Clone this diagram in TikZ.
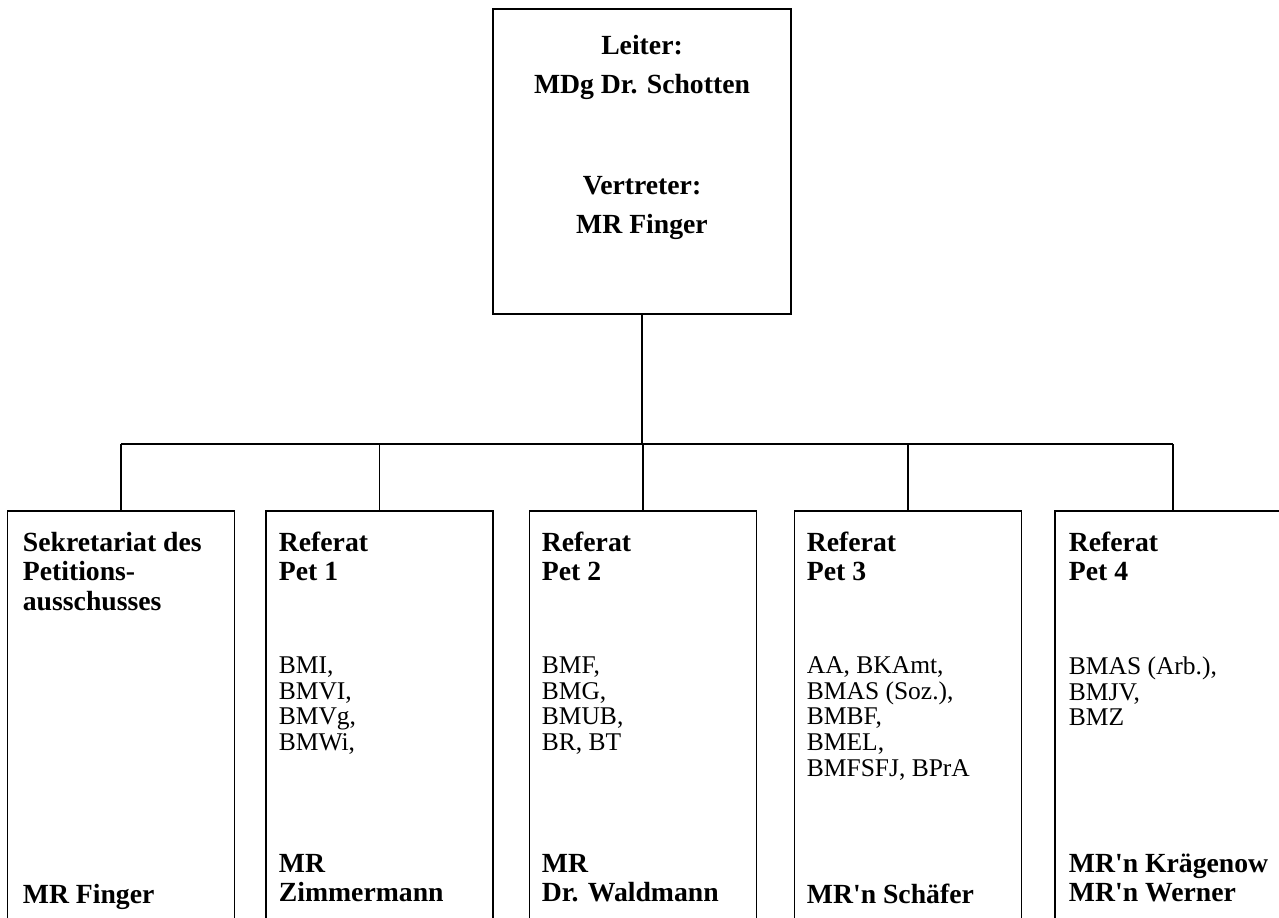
\documentclass[tikz,border=0pt]{standalone}
\usepackage{fontspec}
\setmainfont{Liberation Serif}
\begin{document}
\begin{tikzpicture}[x=0.5pt,y=-0.5pt,line width=0.9pt,
   headbox/.style={draw,rectangle,inner sep=0pt,minimum width=149pt,minimum height=152.5pt},
   unit/.style={draw,rectangle,inner sep=0pt,anchor=north west,minimum width=113.5pt,minimum height=212.5pt},
   headtext/.style={inner sep=0pt,anchor=north,align=center,font=\fontsize{13.85pt}{19.5pt}\selectfont\bfseries},
   title/.style={inner sep=0pt,anchor=north west,align=left,font=\fontsize{13.85pt}{14.75pt}\selectfont\bfseries},
   agency/.style={inner sep=0pt,anchor=north west,align=left,font=\fontsize{12.75pt}{12.8pt}\selectfont}]
   \useasboundingbox (0,0) rectangle (1279,917);
   \clip (0,0) rectangle (1279,917);
   % Leitung
   \node [headbox] (head) at (642,161.5) {};
   \node [headtext] (headtxt) at (642,34) {Leiter:\\MDg Dr. Schotten\\[31pt]Vertreter:\\MR Finger};
   % Sekretariat und Referate
   \node [unit] (sek) at (6.5,510) {};
   \node [unit] (pet1) at (265,510) {};
   \node [unit] (pet2) at (528.5,510) {};
   \node [unit] (pet3) at (793.5,510) {};
   \node [unit,minimum width=118pt] (pet4) at (1054,510) {};
   \node [title] (sektitle) at (22,531) {Sekretariat des\\Petitions-\\ausschusses};
   \node [title] (sekname) at (22,883) {MR Finger};
   \node [title] (pet1title) at (278,531) {Referat\\Pet 1};
   \node [agency] (pet1list) at (278,656) {BMI,\\BMVI,\\BMVg,\\BMWi,};
   \node [title] (pet1name) at (278,853) {MR\\Zimmermann};
   \node [title] (pet2title) at (541,531) {Referat\\Pet 2};
   \node [agency] (pet2list) at (541,656) {BMF,\\BMG,\\BMUB,\\BR, BT};
   \node [title] (pet2name) at (541,853) {MR\\Dr. Waldmann};
   \node [title] (pet3title) at (806,531) {Referat\\Pet 3};
   \node [agency] (pet3list) at (806,656) {AA, BKAmt,\\BMAS (Soz.),\\BMBF,\\BMEL,\\BMFSFJ, BPrA};
   \node [title] (pet3name) at (806,883) {MR\textquotesingle n Schäfer};
   \node [title] (pet4title) at (1068,531) {Referat\\Pet 4};
   \node [agency] (pet4list) at (1068,656) {BMAS (Arb.),\\BMJV,\\BMZ};
   \node [title] (pet4name) at (1068,853) {MR\textquotesingle n Krägenow\\MR\textquotesingle n Werner};
   % Verbindungen
   \coordinate (bus) at (642,444);
   \draw (head.south) -- (bus);
   \draw (sek.north |- bus) -- (pet4.north |- bus);
   \foreach \u in {sek,pet1,pet2,pet3,pet4}
      \draw (\u.north) -- (\u.north |- bus);
\end{tikzpicture}
\end{document}
